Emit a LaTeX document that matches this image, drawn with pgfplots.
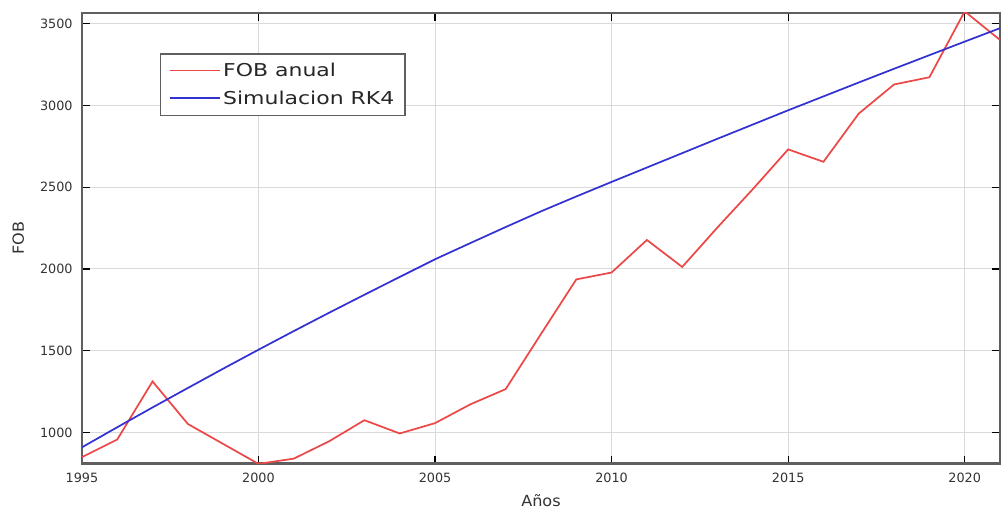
\documentclass[border=0pt]{standalone}
\usepackage{pgfplots}
\pgfplotsset{compat=1.18}
\usepackage{fontspec}
\setmainfont{DejaVu Sans}
\setsansfont{DejaVu Sans}
\newfontfamily\legendfont[FakeStretch=1.24]{DejaVu Sans}
\newfontfamily\labelfont[FakeStretch=1.05]{DejaVu Sans}

\definecolor{fobred}{RGB}{236,72,72}
\definecolor{rkblue}{RGB}{50,50,210}
\definecolor{gridgray}{RGB}{218,218,218}
\definecolor{framegray}{RGB}{95,95,95}

\pgfplotsset{
  shortline/.style={legend image code/.code={%
    \draw[#1, line width=1.4pt, line cap=butt] (0pt,0.3pt) -- (37.5pt,0.3pt);}},
}

% FOB anual (observed yearly values)
\pgfplotstableread{
year fob
1995 849
1996 957
1997 1312
1998 1052
1999 930
2000 808
2001 840
2002 946
2003 1075
2004 994
2005 1057
2006 1172
2007 1265
2008 1602
2009 1936
2010 1978
2011 2177
2012 2012
2013 2254
2014 2488
2015 2731
2016 2655
2017 2950
2018 3128
2019 3172
2020 3575
2021 3400
}\fobdata

% RK4 simulation of the same series
\pgfplotstableread{
year sim
1995 909
1996 1032
1997 1153
1998 1272
1999 1390
2000 1506
2001 1620
2002 1732
2003 1842
2004 1951
2005 2059
2006 2158
2007 2256
2008 2352
2009 2443
2010 2532
2011 2620
2012 2708
2013 2796
2014 2883
2015 2970
2016 3055
2017 3140
2018 3224
2019 3307
2020 3390
2021 3472
}\simdata

\begin{document}
\begin{tikzpicture}
\begin{axis}[
  name=main,
  shortline,
  scale only axis,
  width=689.25pt, height=338.25pt,
  xmin=1995, xmax=2021,
  ymin=810, ymax=3565,
  xtick={1995,2000,...,2020},
  ytick={1000,1500,...,3500},
  xticklabel style={/pgf/number format/1000 sep={}, yshift=-3.5pt},
  yticklabel style={/pgf/number format/1000 sep={}, xshift=-3.5pt},
  /pgf/number format/assume math mode=true,
  tick label style={font=\fontsize{9.6}{11}\selectfont, text=black!80},
  label style={font=\labelfont\fontsize{11.5}{13}\selectfont, text=black!80},
  xlabel={Años},
  ylabel={FOB},
  xlabel style={yshift=-2pt},
  ylabel style={yshift=5pt},
  tick pos=both,
  tick align=inside,
  major tick length=6pt,
  tick style={black, line width=0.9pt},
  grid=major,
  major grid style={gridgray, line width=0.75pt},
  axis line style={framegray, line width=1.6pt},
  clip=true,
  legend cell align=left,
  legend style={
    at={(0.085,0.911)}, anchor=north west,
    draw=framegray, line width=1.1pt,
    font=\legendfont\fontsize{13.3}{15}\selectfont,
    text=black!85,
    inner xsep=6pt, inner ysep=5pt,
    row sep=5pt,
    fill=white,
  },
]
\addplot[fobred, line width=1.3pt] table[x=year, y=fob] {\fobdata};
\addlegendentry{FOB anual}
\addplot[rkblue, line width=1.3pt] table[x=year, y=sim] {\simdata};
\addlegendentry{Simulacion RK4}
\end{axis}
\pgfresetboundingbox
\path ([shift={(-61.5pt,-35.25pt)}]main.south west) rectangle ([shift={(0.75pt,9.75pt)}]main.north east);
\end{tikzpicture}
\end{document}
